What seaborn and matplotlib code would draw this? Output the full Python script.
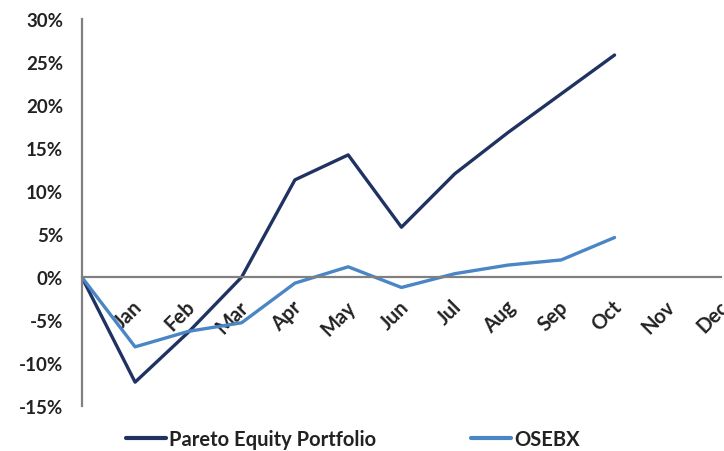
import pandas as pd
import matplotlib
matplotlib.use('Agg')
import matplotlib.pyplot as plt
from matplotlib.ticker import PercentFormatter
import matplotlib.transforms as mtransforms
import seaborn as sns

sns.set_style('white')
plt.rcParams['font.family'] = ['Lato', 'DejaVu Sans']
plt.rcParams['font.weight'] = 'bold'
plt.rcParams['axes.unicode_minus'] = False

# data (cumulative return, %)
months = ['', 'Jan', 'Feb', 'Mar', 'Apr', 'May', 'Jun', 'Jul', 'Aug', 'Sep', 'Oct']
tick_labels = ['Jan', 'Feb', 'Mar', 'Apr', 'May', 'Jun', 'Jul', 'Aug', 'Sep', 'Oct', 'Nov', 'Dec']
pareto = [0.0, -12.2, -6.4, 0.0, 11.3, 14.2, 5.8, 12.0, 16.8, 21.3, 25.8]
osebx = [0.0, -8.1, -6.3, -5.3, -0.7, 1.2, -1.2, 0.4, 1.4, 2.0, 4.6]

df = pd.DataFrame({
    'step': list(range(len(months))) * 2,
    'value': pareto + osebx,
    'series': ['Pareto Equity Portfolio'] * len(pareto) + ['OSEBX'] * len(osebx),
})

fig = plt.figure(figsize=(7.24, 4.52), dpi=100)
ax = fig.add_axes([0.113, 0.099, 0.883, 0.857])

sns.lineplot(data=df, x='step', y='value', hue='series',
             palette=['#1f3262', '#4a86c5'], linewidth=2.4, ax=ax, legend=False)

ax.set_xlim(0, 12)
ax.set_ylim(-15, 30)
ax.set_yticks(range(-15, 31, 5))
ax.yaxis.set_major_formatter(PercentFormatter(decimals=0))
ax.set_xticks(range(1, 13))

for s in ['top', 'right']:
    ax.spines[s].set_visible(False)
ax.spines['bottom'].set_position(('data', 0))
ax.spines['left'].set_color('#808080')
ax.spines['bottom'].set_color('#808080')
ax.spines['left'].set_linewidth(1.6)
ax.spines['bottom'].set_linewidth(1.6)
ax.tick_params(axis='both', length=4.5, width=1.4, color='#808080',
               labelsize=13.5, labelcolor='#222222', direction='out')
ax.tick_params(axis='x', labelsize=14.5)
ax.tick_params(axis='y', pad=9)
ax.set_xlabel('')
ax.set_ylabel('')
ax.grid(False)
ax.set_zorder(1)

ax.set_xticklabels(tick_labels)
fig.canvas.draw()
offset = mtransforms.ScaledTranslation(4 / 100, -15 / 100, fig.dpi_scale_trans)
for lab in ax.get_xticklabels():
    lab.set_rotation(45)
    lab.set_ha('right')
    lab.set_va('center')
    lab.set_rotation_mode('anchor')
    lab.set_transform(lab.get_transform() + offset)

handles = [plt.Line2D([], [], color='#1f3262', lw=3),
           plt.Line2D([], [], color='#4a86c5', lw=3)]
leg = fig.legend(handles, ['Pareto Equity Portfolio', 'OSEBX'], loc='center',
                 bbox_to_anchor=(0.487, 0.027), ncol=2, frameon=False,
                 prop={'size': 14.5, 'weight': 'bold'}, handlelength=2.0,
                 handletextpad=0.15, columnspacing=4.7)
for t in leg.get_texts():
    t.set_color('#222222')

fig.savefig('out.png', dpi=100)
